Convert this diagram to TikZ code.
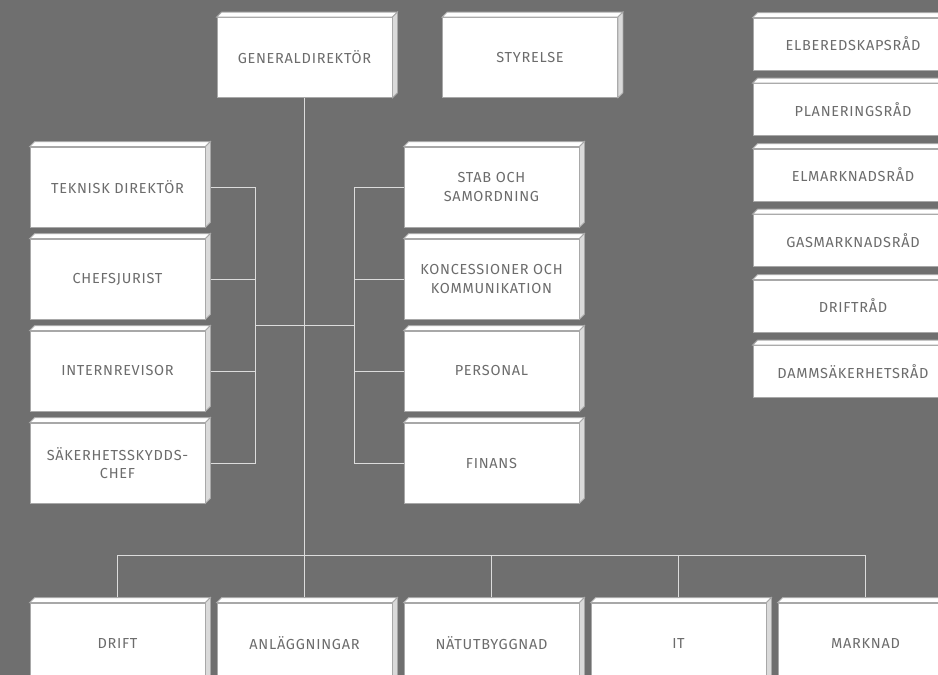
\documentclass[tikz,border=0pt]{standalone}
\usepackage{fontspec}
\newfontfamily\dinfont{Fira Sans}[LetterSpace=5]
\usetikzlibrary{calc}
\definecolor{bg}{HTML}{6F6F6F}
\definecolor{boxline}{HTML}{A8A8A8}
\definecolor{sidec}{HTML}{DADADA}
\definecolor{linec}{HTML}{DCDCDC}
\definecolor{txt}{HTML}{6C6C6C}
\tikzset{
  orgbox/.style={draw=boxline, line width=0.8pt, fill=white, minimum width=175pt, minimum height=80pt,
    inner sep=0pt, text=txt, align=center, font=\dinfont\fontsize{14.5}{18.5}\selectfont},
  council/.style={orgbox, minimum width=200pt, minimum height=52pt},
  conn/.style={draw=linec, line width=1pt},
  topface/.style={fill=white, draw=boxline, line width=0.8pt},
  sideface/.style={fill=sidec, draw=boxline, line width=0.8pt}
}
\begin{document}
\begin{tikzpicture}[x=1pt,y=-1pt]
\useasboundingbox (0,0) rectangle (938,675);
\clip (0,0) rectangle (938,675);
\fill[bg] (0,0) rectangle (938,675);
% top
\node[orgbox] (gd) at (304.5,57.5) {GENERALDIREKTÖR};
\node[orgbox] (sty) at (530,57.5) {STYRELSE};
% left column
\node[orgbox] (tek) at (117.5,187) {TEKNISK DIREKTÖR};
\node[orgbox] (chef) at (117.5,279) {CHEFSJURIST};
\node[orgbox] (int) at (117.5,371) {INTERNREVISOR};
\node[orgbox] (sak) at (117.5,463) {SÄKERHETSSKYDDS-\\CHEF};
% right column
\node[orgbox] (stab) at (491.5,187) {STAB OCH\\SAMORDNING};
\node[orgbox] (kon) at (491.5,279) {KONCESSIONER OCH\\KOMMUNIKATION};
\node[orgbox] (pers) at (491.5,371) {PERSONAL};
\node[orgbox] (fin) at (491.5,463) {FINANS};
% bottom row
\node[orgbox] (drift) at (117.5,643) {DRIFT};
\node[orgbox] (anl) at (304.5,643) {ANLÄGGNINGAR};
\node[orgbox] (nat) at (491.5,643) {NÄTUTBYGGNAD};
\node[orgbox] (it) at (678.5,643) {IT};
\node[orgbox] (mark) at (865.5,643) {MARKNAD};
% councils
\node[council] (c1) at (853,44) {ELBEREDSKAPSRÅD};
\node[council] (c2) at (853,109.5) {PLANERINGSRÅD};
\node[council] (c3) at (853,175) {ELMARKNADSRÅD};
\node[council] (c4) at (853,240.5) {GASMARKNADSRÅD};
\node[council] (c5) at (853,306) {DRIFTRÅD};
\node[council] (c6) at (853,371.5) {DAMMSÄKERHETSRÅD};
% connectors
\coordinate (jl) at (255,325);
\coordinate (jr) at (354,325);
\coordinate (bus) at (0,555);
\draw[conn] (gd.south) -- (anl.north);
\foreach \n in {tek,chef,int,sak} {\draw[conn] (\n.east) -| (jl);}
\foreach \n in {stab,kon,pers,fin} {\draw[conn] (\n.west) -| (jr);}
\draw[conn] (jl) -- (jr);
\draw[conn] (drift.north) |- (bus -| mark.north) -- (mark.north);
\foreach \n in {nat,it} {\draw[conn] (bus -| \n.north) -- (\n.north);}
% 3D faces
\foreach \n in {gd,sty,tek,chef,int,sak,stab,kon,pers,fin,drift,anl,nat,it,mark,c1,c2,c3,c4,c5,c6} {
  \filldraw[topface] (\n.north west) -- ++(5,-5) -- ($(\n.north east)+(5,-5)$) -- (\n.north east) -- cycle;
  \filldraw[sideface] (\n.north east) -- ++(5,-5) -- ($(\n.south east)+(5,-5)$) -- (\n.south east) -- cycle;
}
\end{tikzpicture}
\end{document}
